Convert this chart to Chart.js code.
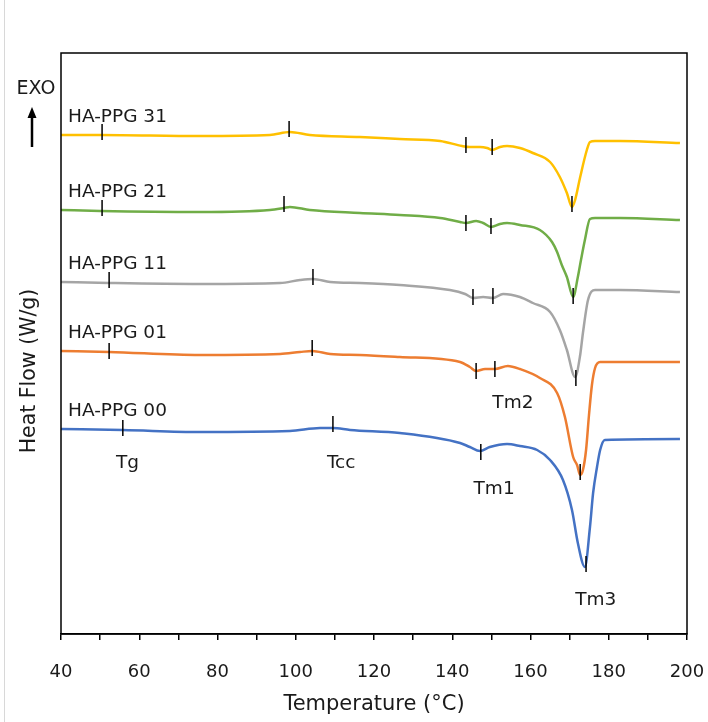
<!DOCTYPE html>
<html>
<head>
<meta charset="utf-8">
<script src="https://cdn.jsdelivr.net/npm/chart.js@4"></script>
<style>
  body { margin: 0; background: #fff; }
  canvas { display: block; }
</style>
</head>
<body>
<canvas id="dscChart" width="708" height="722"></canvas>
<script>
// temperature (°C) and heat flow (arbitrary offset units, exo up)
const t31 = [40, 50, 75.5, 93.4, 98.5, 103.6, 116.4, 126.6, 136.9, 142.5, 144.5, 147.1, 148.9, 150.2, 152.2, 154.0, 157.3, 160.6, 165.0, 167.5, 169.3, 170.6, 171.4, 172.7, 174.4, 175.2, 176.5, 182.9, 198.2];
const hf31 = [499, 499, 498, 499, 502, 499, 497, 495, 493, 488, 487, 487, 486, 484, 487, 488, 486, 481, 472, 457, 441, 427, 434, 457, 484, 492, 493, 493, 491];

const t21 = [40, 50, 75.5, 93.4, 97.0, 98.5, 103.6, 116.4, 126.6, 136.9, 142.0, 143.5, 146.1, 147.9, 149.9, 152.2, 154.0, 157.3, 162.4, 165.5, 166.8, 168.0, 169.3, 170.9, 172.1, 172.9, 173.9, 175.2, 176.5, 182.9, 198.2];
const hf21 = [424, 423, 422, 424, 426, 427, 424, 421, 419, 416, 412, 411, 413, 411, 407, 410, 411, 409, 404, 392, 382, 369, 357, 337, 357, 374, 394, 415, 416, 416, 414];

const t11 = [40, 52.3, 75.5, 96.0, 101.1, 104.4, 108.8, 116.4, 126.6, 139.4, 143.3, 145.3, 147.9, 150.4, 153.0, 157.3, 160.6, 165.0, 167.5, 169.3, 171.4, 172.7, 173.4, 174.7, 176.5, 182.9, 198.2];
const hf11 = [352, 351, 350, 351, 354, 355, 352, 351, 349, 344, 340, 336, 337, 336, 340, 337, 331, 322, 304, 284, 257, 279, 301, 334, 344, 344, 342];

const t01 = [40, 52.3, 75.5, 96.0, 101.1, 104.2, 108.8, 116.4, 126.6, 142.0, 144.5, 146.1, 148.4, 150.9, 154.2, 157.3, 162.4, 166.8, 168.8, 170.9, 171.9, 172.7, 173.4, 174.2, 174.95, 175.7, 176.5, 177.8, 198.2];
const hf01 = [283, 282, 279, 280, 282, 283, 280, 279, 277, 272, 267, 263, 265, 265, 268, 265, 256, 241, 217, 177, 169, 159, 164, 184, 219, 249, 266, 272, 272];

const t00 = [40, 55.8, 75.5, 98.5, 106.2, 109.5, 113.9, 126.6, 142.0, 144.5, 147.1, 149.6, 154.0, 157.3, 161.7, 165.0, 168.3, 170.6, 172.1, 173.9, 175.2, 176.0, 177.0, 177.8, 179.0, 198.2];
const hf00 = [205, 204, 202, 203, 206, 206, 204, 201, 191, 187, 183, 187, 190, 188, 184, 174, 154, 124, 91, 67, 107, 141, 167, 184, 194, 195];

const seriesNames = ["HA-PPG 31", "HA-PPG 21", "HA-PPG 11", "HA-PPG 01", "HA-PPG 00"];

// Tg, Tcc, Tm1, Tm2, Tm3 marks on each curve
const markerT = [50.5, 98.3, 143.5, 150.2, 170.6,
                 50.5, 97.0, 143.5, 149.9, 170.9,
                 52.3, 104.4, 145.3, 150.4, 171.6,
                 52.3, 104.2, 146.1, 150.9, 172.7,
                 55.8, 109.5, 147.3, 174.2];
const markerHF = [502, 505, 489, 487, 430,
                  426, 430, 411, 408, 338,
                  354, 357, 337, 338, 256,
                  283, 286, 263, 265, 162,
                  206, 210, 182, 70];

const xTickLabels = [40, 60, 80, 100, 120, 140, 160, 180, 200];

const curves = [
  { t: t31, hf: hf31, color: "#FFC000" },
  { t: t21, hf: hf21, color: "#70AD47" },
  { t: t11, hf: hf11, color: "#A5A5A5" },
  { t: t01, hf: hf01, color: "#ED7D31" },
  { t: t00, hf: hf00, color: "#4472C4" },
];

// event labels, anchored in data coordinates
const eventLabels = [
  { text: "Tg", t: 57, hf: 171 },
  { text: "Tcc", t: 111.6, hf: 171 },
  { text: "Tm1", t: 150.7, hf: 145 },
  { text: "Tm2", t: 155.5, hf: 231 },
  { text: "Tm3", t: 176.7, hf: 34 },
];

const textColor = "#1a1a1a";
const font = "'DejaVu Sans', sans-serif";
const plotBox = { left: 61, top: 53, right: 687, bottom: 634 };

const annotations = {
  id: "annotations",
  afterDraw(chart) {
    const { ctx, chartArea, scales } = chart;
    ctx.save();
    ctx.strokeStyle = "#000";
    ctx.lineWidth = 1.5;
    ctx.strokeRect(chartArea.left, chartArea.top, chartArea.right - chartArea.left, chartArea.bottom - chartArea.top);

    // faint page edge on the left
    ctx.strokeStyle = "#d8d8d8";
    ctx.lineWidth = 1;
    ctx.beginPath();
    ctx.moveTo(4.5, 0);
    ctx.lineTo(4.5, 722);
    ctx.stroke();

    ctx.fillStyle = textColor;
    ctx.font = "18.5px " + font;
    ctx.textBaseline = "middle";
    ctx.textAlign = "left";
    curves.forEach((c, i) => {
      const y = scales.y.getPixelForValue(c.hf[0]) - 18;
      ctx.fillText(seriesNames[i], chartArea.left + 7, y);
    });

    ctx.textAlign = "center";
    eventLabels.forEach((l) => {
      ctx.fillText(l.text, scales.x.getPixelForValue(l.t), scales.y.getPixelForValue(l.hf));
    });

    // EXO arrow
    ctx.font = "19px " + font;
    ctx.fillText("EXO", 36, 89);
    ctx.strokeStyle = "#000";
    ctx.lineWidth = 2.5;
    ctx.beginPath();
    ctx.moveTo(32, 147);
    ctx.lineTo(32, 115);
    ctx.stroke();
    ctx.fillStyle = "#000";
    ctx.beginPath();
    ctx.moveTo(32, 107);
    ctx.lineTo(27.5, 118);
    ctx.lineTo(36.5, 118);
    ctx.closePath();
    ctx.fill();

    // y axis title
    ctx.fillStyle = textColor;
    ctx.translate(30, 371);
    ctx.rotate(-Math.PI / 2);
    ctx.font = "20.5px " + font;
    ctx.fillText("Heat Flow (W/g)", 0, 0);
    ctx.restore();
  },
};

const datasets = curves.map((c, i) => ({
  label: seriesNames[i],
  data: c.t.map((t, j) => ({ x: t, y: c.hf[j] })),
  showLine: true,
  borderColor: c.color,
  borderWidth: 2.5,
  pointRadius: 0,
  cubicInterpolationMode: "monotone",
  order: 1,
}));

datasets.push({
  label: "marks",
  data: markerT.map((t, j) => ({ x: t, y: markerHF[j] })),
  showLine: false,
  pointStyle: "line",
  rotation: 90,
  pointRadius: 8,
  borderColor: "#000",
  borderWidth: 1.5,
  order: 0,
});

const ctx = document.getElementById("dscChart").getContext("2d");
const chart = new Chart(ctx, {
  type: "scatter",
  data: { datasets },
  plugins: [annotations],
  options: {
    responsive: false,
    devicePixelRatio: 1,
    animation: false,
    layout: { padding: { left: 61, right: 21, top: 53, bottom: 0 } },
    plugins: {
      legend: { display: false },
      tooltip: { enabled: false },
    },
    scales: {
      x: {
        type: "linear",
        min: 40,
        max: 200,
        afterFit: (scale) => {
          // fixed axis band; end labels may overhang into the layout padding
          scale.height = 722 - plotBox.bottom;
          scale.paddingLeft = 0;
          scale.paddingRight = 0;
        },
        grid: { drawOnChartArea: false, drawTicks: true, tickLength: 6, color: "#000", lineWidth: 1.5 },
        border: { display: true, color: "#000", width: 1.5 },
        ticks: {
          stepSize: 10,
          autoSkip: false,
          maxRotation: 0,
          padding: 22,
          color: textColor,
          font: { family: "'DejaVu Sans'", size: 18 },
          callback: (v) => (xTickLabels.includes(v) ? String(v) : ""),
        },
        title: {
          display: true,
          text: "Temperature (°C)",
          color: textColor,
          font: { family: "'DejaVu Sans'", size: 21 },
          padding: { top: 0, bottom: 5 },
        },
      },
      y: {
        display: false,
        min: 0,
        max: 581,
      },
    },
  },
});

// nudge the layout padding so the plot frame lands where the original has it
const area = chart.chartArea;
const pad = chart.options.layout.padding;
pad.left += plotBox.left - area.left;
pad.top += plotBox.top - area.top;
pad.right = Math.max(0, pad.right + area.right - plotBox.right);
pad.bottom = Math.max(0, pad.bottom + area.bottom - plotBox.bottom);
chart.update();
</script>
</body>
</html>
